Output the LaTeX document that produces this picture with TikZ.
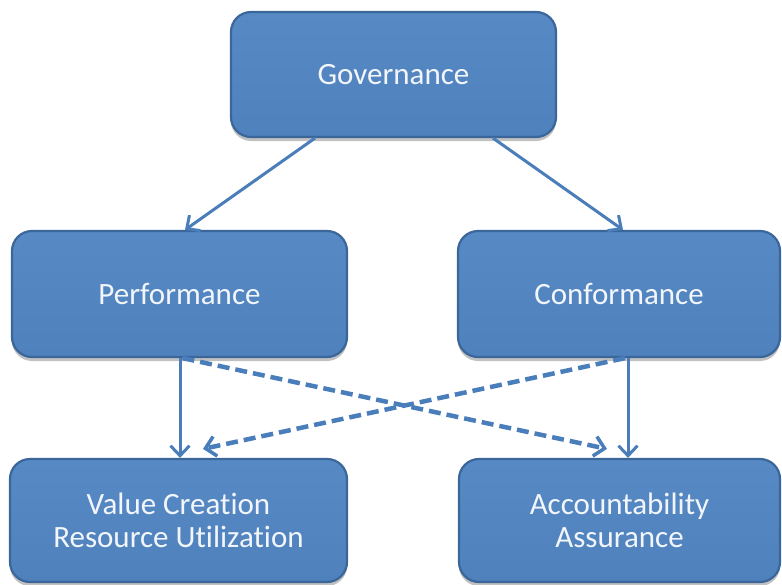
\documentclass[tikz,border=0pt]{standalone}
\usepackage{fontspec}
\setmainfont[Ligatures={NoCommon}]{Carlito}
\usetikzlibrary{arrows.meta,shadows}
\definecolor{boxfill}{HTML}{4F81BD}
\definecolor{boxtop}{HTML}{578AC5}
\definecolor{boxline}{HTML}{3A6699}
\definecolor{linkcol}{HTML}{4A7EBB}
\definecolor{txt}{HTML}{F2F6FB}
\tikzset{
  box/.style={draw=boxline, line width=2.2pt, rounded corners=20pt,
    top color=boxtop, bottom color=boxfill, text=txt,
    font=\fontsize{31}{33}\selectfont, align=center, inner sep=0pt,
    drop shadow={opacity=0.35, shadow xshift=0pt, shadow yshift=-4pt, fill=black!70}},
  link/.style={draw=linkcol, line width=3pt, -{Straight Barb[length=10pt,width=19pt,line width=3pt]}},
  dlink/.style={draw=linkcol, line width=4.5pt, dash pattern=on 12pt off 6pt, -{Straight Barb[length=10pt,width=20pt,line width=3.5pt]}}
}
\begin{document}
\begin{tikzpicture}[x=1pt,y=-1pt]
\useasboundingbox (0,0) rectangle (782,584);
\node[box, minimum width=325pt, minimum height=125pt] (gov) at (393.5,74.5) {Governance};
\node[box, minimum width=335pt, minimum height=126pt] (perf) at (179.5,294) {Performance};
\node[box, minimum width=322pt, minimum height=126pt] (conf) at (619,294) {Conformance};
\node[box, minimum width=337pt, minimum height=123pt] (val) at (178.5,520.5) {Value Creation\\Resource Utilization};
\node[box, minimum width=321pt, minimum height=123pt] (acc) at (619.5,520.5) {Accountability\\Assurance};
\draw[link] ([xshift=-78.5pt]gov.south) -- ([xshift=5.5pt]perf.north);
\draw[link] ([xshift=99.5pt]gov.south) -- ([xshift=4pt]conf.north);
\draw[link] ([xshift=0.5pt]perf.south) -- ([xshift=0.5pt]perf.south |- val.north);
\draw[link] ([xshift=9pt]conf.south) -- ([xshift=9pt]conf.south |- acc.north);
\draw[dlink] ([xshift=3pt]perf.south) -- ([xshift=-12.5pt,yshift=9pt]acc.north);
\draw[dlink] ([xshift=6pt]conf.south) -- ([xshift=24.5pt,yshift=9pt]val.north);
\end{tikzpicture}
\end{document}
